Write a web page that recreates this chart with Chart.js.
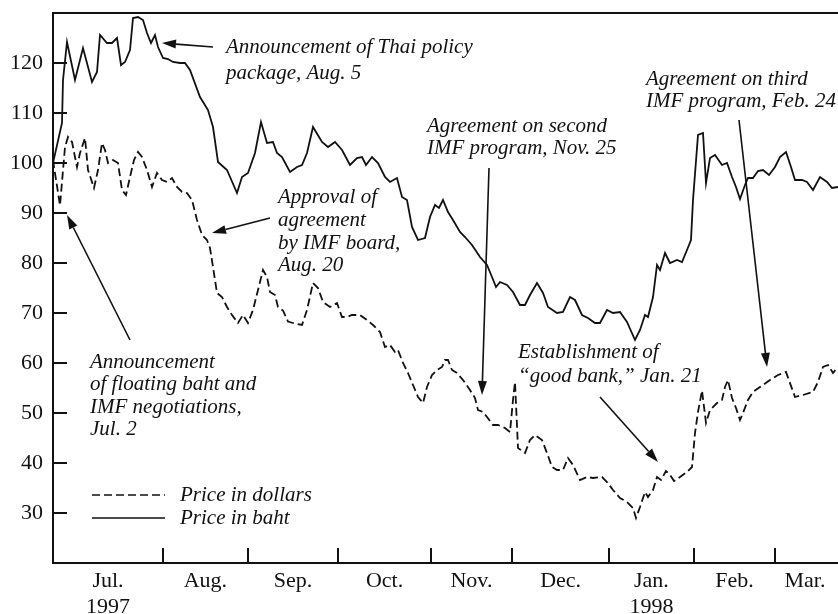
<!DOCTYPE html>
<html><head><meta charset="utf-8">
<script src="https://cdn.jsdelivr.net/npm/chart.js@4/dist/chart.umd.min.js"></script>
<style>html,body{margin:0;padding:0;background:#fff;}canvas{display:block;}</style>
</head><body>
<canvas id="c" width="838" height="614"></canvas>
<script>
// x = trading days from start of series (late June 1997); y = index (start = 100)
const bahtDays = [0,2.25,2.5,3.5,5.5,7.5,9.75,11,11.75,13.5,14.75,16,17,18,19.25,20,21.25,22.5,23.5,24.5,25.5,26.25,27.5,28.75,30,31.75,33,34.25,36.75,38.75,40,41.25,43.5,46,47.25,48.75,50.5,52,53.5,55,56,57.25,59.25,61,62.25,63.5,65,67.25,68.75,70.5,72.25,74.25,76,77.25,78.25,79.75,81.25,83,84.25,86,87.25,88.5,89.75,91.25,93,94.25,95.5,96.5,97.5,98.75,100,101.75,103,104.75,106.75,108.5,109.75,110.75,111.75,113.5,115,116.75,118,119.25,121,122.5,123.75,126,127.5,129.25,130.5,132.25,133.75,135.5,136.75,138.5,140,141.75,143.5,145.5,146.75,148,148.75,150,151,151.75,153,154.25,156,157.25,158.5,159.5,160,161.25,162.5,163.25,164.25,165.5,167.25,168.5,169.75,170.75,171.75,173,173.75,175,176.25,177.5,179,180.5,181.75,183.25,184.5,185.5,187.25,188.5,190,191.75,193.5,194.75,196.25];
const bahtIndex = [100,108,116.6,124.2,116.6,123,116.2,118.2,125.6,124,124,125,119.6,120.2,122.6,129,129.2,128.6,126,124,125.6,123.2,121,120.8,120.2,120,120,118.6,113.2,110.6,107.2,100.2,98.6,94,97.2,98,102,108.2,104,104.2,102,101.2,98.2,99.2,99.6,102,107.2,104.2,103.2,104.2,102.6,99.6,101,101.2,99.6,101.2,100,97.2,96.2,97,93.2,92.6,87.2,84.6,85,89.2,91.6,91,92.6,90.2,88.6,86.2,85.2,83.6,81.2,79.6,77.2,75.2,76.2,75.6,74.2,71.6,71.6,73.6,76,74,71.2,70,70.2,73.2,72.6,69.6,69,68,68,70.6,70,70.2,68.2,64.6,66.6,69.6,69.2,73.2,79.6,78.6,82,80,80.6,80.2,82.6,84.6,92.6,105.6,106,96,101,101.6,99.6,100,97.2,95.2,92.8,95.6,97,97,98.4,98.6,97.6,99.2,101.2,102.2,99.2,96.6,96.6,96.2,94.6,97.2,96.2,95,95.2];
const dollarDays = [0,1.75,3,3.75,4.75,6,6.75,8,8.75,10.25,11.25,12.25,13,13.75,15,16.25,17.25,18.25,19.25,20.25,21.25,22.25,23.5,24.75,26,27.25,28.5,29.75,31,32.25,33.5,34.75,36,37.25,38.5,39.25,40,41,42.25,43.5,44.75,46.25,47.5,48.75,50,51.25,52.5,53.5,54.25,55.5,56.25,57.5,58.75,60,62.25,63.5,65,66.25,67.5,69.25,71,72.25,73.5,74.75,76.75,78.5,80,81.75,83,84.25,85.5,86.25,87.5,88.75,90,91.25,92.5,93.5,94.75,96,97.25,98,98.75,99.75,101,102.5,104.25,105.5,106.25,107.5,108.5,110,111.25,113,114.25,115,115.5,116.25,118,119.25,120.5,122.25,123.5,124.75,126,127.5,128.75,130,131.75,133.5,135,137.25,138.5,140,141.75,143.5,145,145.75,146.75,148,148.75,150,151,152,153.25,154.25,155.25,156.75,158.5,159.75,160.5,161.25,162.25,163.25,164.25,166,167.25,168,168.75,169.75,170.75,171.75,172.5,173.75,175,176.75,179.25,181.25,183.25,185.5,187.5,190,191.25,192.5,193.75,195,196.25];
const dollarIndex = [100.6,91.5,103.2,105.2,104.2,99.2,102,105,98.6,95,98.6,104,102.6,100,100.6,100,94.6,93.6,97.2,100.6,102.2,101.2,98.6,95.2,98,96.6,96.2,97,95.2,94.2,94,92.6,88.6,85.6,84.6,83,79.2,74,73.2,71.2,69.6,68,69.6,68,70.6,74.6,78.6,77.2,74.2,73.6,71.2,70.5,68.3,68,67.6,70.6,76,75,72.2,71.2,72,69.2,69.2,69.6,69.6,68.6,67.6,66.2,63.2,63.6,62.2,62.6,60,58,55.6,53.2,52,55.2,57.6,58.6,59.2,60.6,60.6,58.6,58,56.6,54.6,53,50.6,50.2,49.2,47.6,47.6,47,46.2,52.6,56.2,43,42,44.6,45.6,44.6,42,39.2,38.6,38.6,41,39.6,36.6,37.2,37,37.2,36.2,34.6,33,32.2,31,29,31.2,34.2,33.2,34.6,37.2,36.6,38.4,37.6,36.4,37.2,38.2,39.2,46,50.2,54.5,48,50.6,52,52.6,55.2,56.6,53,51,48.6,50,52.6,54.2,55.2,56.6,57.6,58.2,53.2,53.6,54.2,56.2,59.2,59.6,58,59.2];

const monthLabels = [['Jul.','1997'],'Aug.','Sep.','Oct.','Nov.','Dec.',['Jan.','1998'],'Feb.','Mar.'];
const monthCenters = [13.75,38.1,60,82.9,104.6,126.9,149.6,170.4,188];
const monthStarts = [27.5,48.75,71.25,94.5,114.75,139,160.25,180.5];
const yTicks = [30,40,50,60,70,80,90,100,110,120];
const seriesNames = ['Price in dollars','Price in baht'];

// annotation layout (data coordinates)
const notes = [
  {lines:['Announcement of Thai policy','package, Aug. 5'], x:43.25, y:[123.2,118], from:[40,123.2], to:[27.25,124]},
  {lines:['Approval of','agreement','by IMF board,','Aug. 20'], x:56.25, y:[93.2,88.6,84,79.6], from:[54.25,89], to:[39.75,86]},
  {lines:['Announcement','of floating baht and','IMF negotiations,','Jul. 2'], x:9.25, y:[60.2,55.8,51.2,46.8], from:[19.25,64.6], to:[3.5,89.6]},
  {lines:['Agreement on second','IMF program, Nov. 25'], x:93.5, y:[107.4,103], from:[109,99], to:[107.25,53.6]},
  {lines:['Agreement on third','IMF program, Feb. 24'], x:148.25, y:[116.8,112.4], from:[171.5,108.6], to:[178.5,59.2]},
  {lines:['Establishment of','\u201Cgood bank,\u201D Jan. 21'], x:116.25, y:[62.2,57.4], from:[136.75,53.2], to:[151.25,40.2]}
];

const SERIF = '"Liberation Serif","Times New Roman","DejaVu Serif",serif';
const DASH = [8,4];

const overlay = {
  id:'overlay',
  afterDraw(chart){
    const {ctx, chartArea:a, scales:{x,y}} = chart;
    ctx.save();
    ctx.strokeStyle='#111'; ctx.fillStyle='#111';
    ctx.lineWidth=2;
    ctx.beginPath(); ctx.moveTo(a.left, a.top); ctx.lineTo(a.right, a.top); ctx.stroke();
    monthStarts.forEach(m=>{const px=Math.round(x.getPixelForValue(m)); ctx.beginPath(); ctx.moveTo(px,a.bottom); ctx.lineTo(px,a.bottom-15); ctx.stroke();});
    yTicks.forEach(v=>{const py=Math.round(y.getPixelForValue(v)); ctx.beginPath(); ctx.moveTo(a.left,py); ctx.lineTo(a.left+14,py); ctx.stroke();});
    ctx.font='italic 21px '+SERIF; ctx.textBaseline='middle'; ctx.textAlign='left';
    notes.forEach(n=>{
      n.lines.forEach((t,i)=>ctx.fillText(t, x.getPixelForValue(n.x), y.getPixelForValue(n.y[i])));
      const x1=x.getPixelForValue(n.from[0]), y1=y.getPixelForValue(n.from[1]);
      const x2=x.getPixelForValue(n.to[0]), y2=y.getPixelForValue(n.to[1]);
      const ang=Math.atan2(y2-y1,x2-x1), L=14, W=4.5;
      const bx=x2-L*Math.cos(ang), by=y2-L*Math.sin(ang);
      ctx.lineWidth=1.6;
      ctx.beginPath(); ctx.moveTo(x1,y1); ctx.lineTo(bx,by); ctx.stroke();
      ctx.beginPath(); ctx.moveTo(x2,y2);
      ctx.lineTo(bx+W*Math.sin(ang), by-W*Math.cos(ang));
      ctx.lineTo(bx-W*Math.sin(ang), by+W*Math.cos(ang));
      ctx.closePath(); ctx.fill();
    });
    const lx1=x.getPixelForValue(9.75), lx2=x.getPixelForValue(28), tx=x.getPixelForValue(31.75);
    const ly=[y.getPixelForValue(33.6), y.getPixelForValue(29)];
    ctx.lineWidth=1.6;
    ctx.setLineDash(DASH); ctx.beginPath(); ctx.moveTo(lx1,ly[0]); ctx.lineTo(lx2,ly[0]); ctx.stroke();
    ctx.setLineDash([]); ctx.beginPath(); ctx.moveTo(lx1,ly[1]); ctx.lineTo(lx2,ly[1]); ctx.stroke();
    ctx.fillText(seriesNames[0], tx, ly[0]); ctx.fillText(seriesNames[1], tx, ly[1]);
    ctx.restore();
  }
};

new Chart(document.getElementById('c'), {
  type:'line',
  data:{datasets:[
    {label:seriesNames[0], data:dollarDays.map((d,i)=>({x:d,y:dollarIndex[i]})), borderColor:'#111', borderWidth:1.8, borderDash:DASH, pointRadius:0, tension:0, fill:false},
    {label:seriesNames[1], data:bahtDays.map((d,i)=>({x:d,y:bahtIndex[i]})), borderColor:'#111', borderWidth:1.8, pointRadius:0, tension:0, fill:false}
  ]},
  options:{
    responsive:false, animation:false, devicePixelRatio:1,
    layout:{padding:{top:13,left:0,right:0,bottom:0}},
    plugins:{legend:{display:false}, tooltip:{enabled:false}},
    scales:{
      x:{type:'linear', min:0, max:196.25,
        afterBuildTicks:s=>{s.ticks=monthCenters.map(v=>({value:v}));},
        afterFit:s=>{s.height=51; s.paddingLeft=0; s.paddingRight=0;},
        grid:{display:false, drawTicks:false},
        border:{display:true,color:'#111',width:2},
        ticks:{autoSkip:false,maxRotation:0,padding:6,color:'#111',font:{family:SERIF,size:22,lineHeight:1.15},callback:(v,i)=>monthLabels[i]}
      },
      y:{type:'linear', min:20, max:130,
        afterBuildTicks:s=>{s.ticks=yTicks.map(v=>({value:v}));},
        afterFit:s=>{s.width=53; s.paddingTop=0; s.paddingBottom=0;},
        grid:{display:false, drawTicks:false},
        border:{display:true,color:'#111',width:2},
        ticks:{padding:10,color:'#111',font:{family:SERIF,size:22}}
      }
    }
  },
  plugins:[overlay]
});
</script>
</body></html>
